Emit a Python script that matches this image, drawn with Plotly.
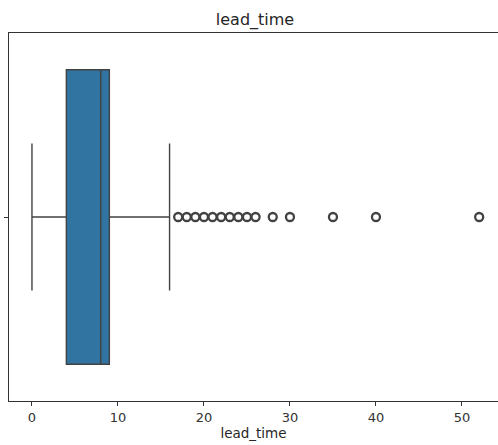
import plotly.graph_objects as go

# Box statistics (lead_time)
q1 = [4]
median = [8]
q3 = [9]
lower_fence = [0]
upper_fence = [16]
# Outliers
outliers = [17, 18, 19, 20, 21, 22, 23, 24, 25, 26, 28, 30, 35, 40, 52]
x_ticks = [0, 10, 20, 30, 40, 50]

BOX_FILL = "#3274A1"
LINE = "#424242"
FONT = "DejaVu Sans"

fig = go.Figure()
fig.add_trace(go.Box(
    y=[0], q1=q1, median=median, q3=q3,
    lowerfence=lower_fence, upperfence=upper_fence,
    orientation="h", width=0.8, whiskerwidth=0.5,
    fillcolor=BOX_FILL, line=dict(color=LINE, width=1.4),
    boxpoints=False, showlegend=False, hoverinfo="skip",
))
fig.add_trace(go.Scatter(
    x=outliers, y=[0] * len(outliers), mode="markers",
    marker=dict(symbol="circle-open", size=8, color=LINE, line=dict(width=2.3, color=LINE)),
    showlegend=False, hoverinfo="skip",
))

fig.update_layout(
    width=498, height=445,
    margin=dict(l=9, r=0, t=33, b=44),
    paper_bgcolor="white", plot_bgcolor="white",
    font=dict(family=FONT, color="#262626", size=13),
    title=dict(text="lead_time", x=255 / 498, xref="container", xanchor="center",
               y=1 - 19 / 445, yref="container", yanchor="middle",
               font=dict(size=16, family=FONT, color="#262626")),
)
fig.update_xaxes(
    range=[-2.67, 54.19], tickvals=x_ticks, ticks="outside", ticklen=4, tickwidth=1,
    tickcolor="#333", showline=True, linecolor="#333", linewidth=1.2, mirror=True,
    showgrid=False, zeroline=False,
    title=dict(text="lead_time", font=dict(size=13.5), standoff=4),
    tickfont=dict(size=13, color="#333"),
)
fig.update_yaxes(
    range=[0.5, -0.5], tickvals=[0], ticktext=[""], ticks="outside", ticklen=4,
    tickwidth=1, tickcolor="#333", showline=True, linecolor="#333", linewidth=1.2,
    mirror=False, showgrid=False, zeroline=False,
)

fig.write_html("out.html")
